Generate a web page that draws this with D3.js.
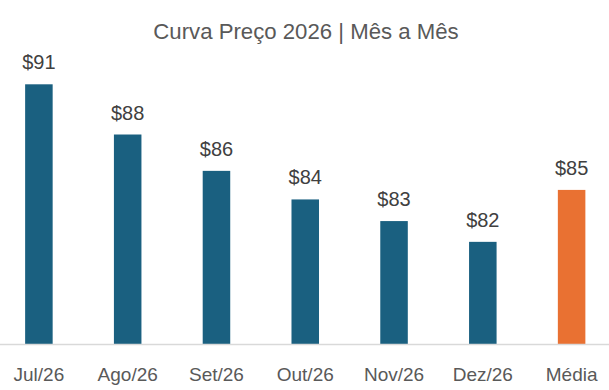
<!DOCTYPE html>
<html><head><meta charset="utf-8">
<script src="https://cdn.jsdelivr.net/npm/d3@7"></script>
<style>html,body{margin:0;padding:0;background:#fff;}svg{display:block;}</style>
</head><body>
<svg id="chart" width="609" height="390"></svg>
<script>
const categories = ["Jul/26","Ago/26","Set/26","Out/26","Nov/26","Dez/26","Média"];
const values = [91.0, 88.1, 86.0, 84.35, 83.1, 81.9, 84.9];
const barColors = ["#1A6080","#1A6080","#1A6080","#1A6080","#1A6080","#1A6080","#E97132"];
const title = "Curva Preço 2026 | Mês a Mês";

const W = 609, H = 390;
const svg = d3.select("#chart");
const font = "'Liberation Sans', Arial, sans-serif";

const x = d3.scaleBand().domain(categories).range([-5.5, 616]).paddingInner(0.69).paddingOuter(0.345);
const y = d3.scaleLinear().domain([76, 91]).range([344, 84.3]);

svg.append("text").attr("x", 306).attr("y", 38.5).attr("text-anchor","middle")
  .attr("font-family", font).attr("font-size", 22.2).attr("fill","#595959").text(title);

svg.selectAll("rect.bar").data(categories).enter().append("rect")
  .attr("class","bar")
  .attr("x", d => x(d)).attr("width", x.bandwidth())
  .attr("y", (d,i) => y(values[i])).attr("height", (d,i) => y.range()[0] - y(values[i]))
  .attr("fill", (d,i) => barColors[i]);

svg.append("line").attr("x1", 0).attr("x2", W).attr("y1", 344.5).attr("y2", 344.5)
  .attr("stroke","#D9D9D9").attr("stroke-width",1.5);

svg.selectAll("text.val").data(categories).enter().append("text")
  .attr("class","val")
  .attr("x", d => x(d) + x.bandwidth()/2)
  .attr("y", (d,i) => y(values[i]) - 15)
  .attr("text-anchor","middle").attr("font-family", font).attr("font-size", 20)
  .attr("fill","#404040")
  .text((d,i) => "$" + Math.round(values[i]));

const xAxis = d3.axisBottom(x).tickSize(0).tickPadding(0);
const gx = svg.append("g").attr("transform","translate(0,344)").call(xAxis);
gx.select(".domain").remove();
gx.selectAll("text").attr("font-family", font).attr("font-size", 19).attr("fill","#595959")
  .attr("dy", null).attr("y", 36.5);
</script>
</body></html>
